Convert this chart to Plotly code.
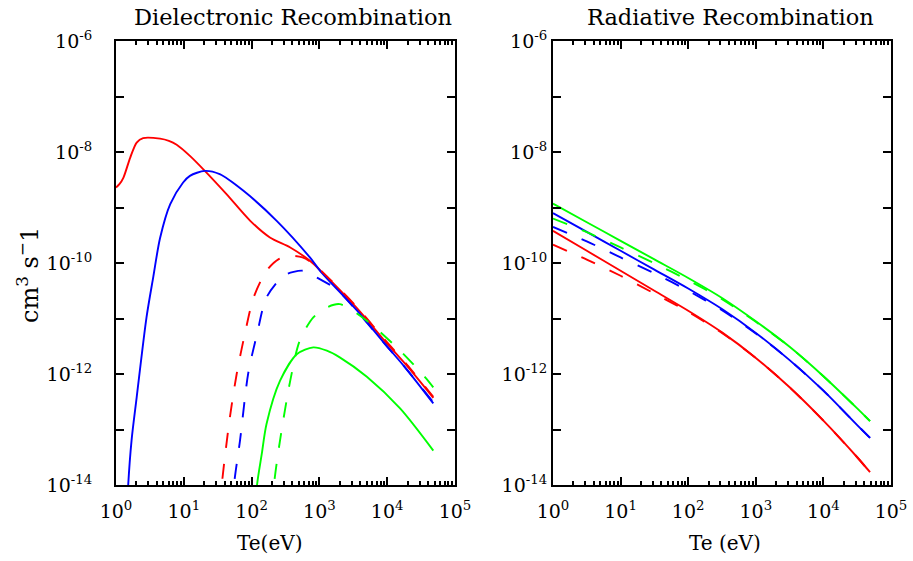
import plotly.graph_objects as go

# ---------------- data (log10 values) ----------------
# Left panel: Dielectronic Recombination
dr_red_solid_logT = [0.0, 0.05, 0.11, 0.21, 0.305, 0.40, 0.65, 0.78, 0.895, 1.09, 1.31, 1.63, 1.98, 2.27, 2.57, 2.86, 3.01, 3.55, 3.94, 4.29, 4.68]
dr_red_solid_loga = [-8.64, -8.58, -8.46, -8.10, -7.83, -7.75, -7.76, -7.80, -7.87, -8.07, -8.34, -8.76, -9.24, -9.54, -9.72, -9.96, -10.13, -10.81, -11.37, -11.85, -12.43]

dr_blue_solid_logT = [0.16, 0.18, 0.23, 0.305, 0.45, 0.55, 0.65, 0.80, 0.99, 1.09, 1.31, 1.53, 1.88, 2.37, 2.86, 3.01, 3.55, 3.94, 4.29, 4.68]
dr_blue_solid_loga = [-14.6, -14.0, -13.19, -12.42, -10.98, -10.25, -9.55, -8.94, -8.55, -8.43, -8.34, -8.40, -8.70, -9.24, -9.90, -10.14, -10.85, -11.42, -11.92, -12.53]

dr_green_solid_logT = [2.02, 2.08, 2.15, 2.22, 2.42, 2.67, 2.91, 3.11, 3.30, 3.70, 4.19, 4.68]
dr_green_solid_loga = [-15.0, -14.0, -13.44, -12.90, -12.12, -11.64, -11.52, -11.58, -11.70, -12.05, -12.62, -13.38]

dr_red_dash_logT = [1.50, 1.56, 1.68, 1.78, 1.90, 2.03, 2.22, 2.40, 2.57, 2.75, 2.90, 3.01, 3.55, 3.94, 4.29, 4.68]
dr_red_dash_loga = [-15.0, -14.0, -12.78, -12.00, -11.28, -10.62, -10.14, -9.93, -9.87, -9.90, -10.00, -10.12, -10.79, -11.35, -11.83, -12.41]

dr_blue_dash_logT = [1.68, 1.74, 1.83, 1.95, 2.08, 2.22, 2.47, 2.62, 2.76, 2.96, 3.26, 3.55, 3.94, 4.29, 4.68]
dr_blue_dash_loga = [-15.0, -14.0, -13.19, -11.99, -11.28, -10.62, -10.23, -10.16, -10.14, -10.26, -10.48, -10.86, -11.42, -11.92, -12.51]

dr_green_dash_logT = [2.28, 2.33, 2.42, 2.57, 2.71, 2.91, 3.11, 3.30, 3.70, 4.19, 4.56, 4.68]
dr_green_dash_loga = [-15.0, -14.0, -13.19, -12.12, -11.40, -10.98, -10.80, -10.74, -11.04, -11.58, -12.06, -12.24]

# Right panel: Radiative Recombination
rr_logT = [0.0, 0.5, 1.0, 1.5, 2.0, 2.5, 3.0, 3.5, 4.0, 4.5, 4.69]
rr_green_solid_loga = [-8.93, -9.265, -9.60, -9.935, -10.27, -10.63, -11.05, -11.51, -12.04, -12.62, -12.85]
rr_blue_solid_loga = [-9.10, -9.44, -9.78, -10.12, -10.46, -10.83, -11.26, -11.75, -12.30, -12.92, -13.15]
rr_red_solid_loga = [-9.42, -9.78, -10.14, -10.50, -10.86, -11.25, -11.71, -12.24, -12.84, -13.50, -13.77]
rr_green_dash_loga = [-9.20, -9.445, -9.72, -10.005, -10.31, -10.65, -11.06, -11.51, -12.04, -12.62, -12.85]
rr_blue_dash_loga = [-9.35, -9.61, -9.90, -10.185, -10.50, -10.85, -11.27, -11.75, -12.30, -12.92, -13.15]
rr_red_dash_loga = [-9.67, -9.94, -10.23, -10.55, -10.88, -11.26, -11.71, -12.24, -12.84, -13.50, -13.77]

x_tick_exps = [0, 1, 2, 3, 4, 5]
y_tick_exps = [-14, -13, -12, -11, -10, -9, -8, -7, -6]

RED, BLUE, GREEN = "#ff0000", "#0000ff", "#00ff00"
FONT = "DejaVu Serif"
DASH = "15px,16px"


def pw(v):
    return [10 ** e for e in v]


fig = go.Figure()


def add(logT, loga, color, dash, xa, ya):
    fig.add_trace(go.Scatter(
        x=pw(logT), y=pw(loga), mode="lines", xaxis=xa, yaxis=ya,
        line=dict(color=color, width=1.9, dash=dash, shape="spline", smoothing=0.8),
        showlegend=False, hoverinfo="skip"))


# left
add(dr_red_solid_logT, dr_red_solid_loga, RED, "solid", "x", "y")
add(dr_blue_solid_logT, dr_blue_solid_loga, BLUE, "solid", "x", "y")
add(dr_green_solid_logT, dr_green_solid_loga, GREEN, "solid", "x", "y")
add(dr_red_dash_logT, dr_red_dash_loga, RED, DASH, "x", "y")
add(dr_blue_dash_logT, dr_blue_dash_loga, BLUE, DASH, "x", "y")
add(dr_green_dash_logT, dr_green_dash_loga, GREEN, DASH, "x", "y")
# right
add(rr_logT, rr_green_solid_loga, GREEN, "solid", "x2", "y2")
add(rr_logT, rr_blue_solid_loga, BLUE, "solid", "x2", "y2")
add(rr_logT, rr_red_solid_loga, RED, "solid", "x2", "y2")
add(rr_logT, rr_green_dash_loga, GREEN, DASH, "x2", "y2")
add(rr_logT, rr_blue_dash_loga, BLUE, DASH, "x2", "y2")
add(rr_logT, rr_red_dash_loga, RED, DASH, "x2", "y2")

W, H = 913, 561
x_tickvals = [10 ** e for e in x_tick_exps]
x_ticktext = ["10<sup>%d</sup>" % e for e in x_tick_exps]
x_minor = [m * 10 ** e for e in x_tick_exps[:-1] for m in range(2, 10)]
y_tickvals = [10 ** e for e in y_tick_exps]
y_ticktext = [("10<sup>%d</sup>" % e) if e % 2 == 0 else "" for e in y_tick_exps]

xcommon = dict(type="log", range=[0, 5], showline=True, linecolor="black", linewidth=2,
               mirror="ticks", ticks="inside", ticklen=8, tickwidth=1.5, tickcolor="black",
               tickmode="array", tickvals=x_tickvals, ticktext=x_ticktext,
               showgrid=False, zeroline=False, ticklabelstandoff=8,
               tickfont=dict(family=FONT, size=19, color="black"),
               minor=dict(ticks="inside", ticklen=4, tickwidth=1.5, tickcolor="black",
                          tickmode="array", tickvals=x_minor, showgrid=False))
ycommon = dict(type="log", range=[-14, -6], showline=True, linecolor="black", linewidth=2,
               mirror="ticks", ticks="inside", ticklen=8, tickwidth=1.5, tickcolor="black",
               tickmode="array", tickvals=y_tickvals, ticktext=y_ticktext,
               showgrid=False, zeroline=False,
               tickfont=dict(family=FONT, size=19, color="black"))

fig.update_layout(
    width=W, height=H, margin=dict(l=0, r=0, t=0, b=0, pad=0, autoexpand=False),
    paper_bgcolor="white", plot_bgcolor="white",
    xaxis=dict(domain=[116 / W, 455 / W], anchor="y", **xcommon),
    yaxis=dict(domain=[1 - 485 / H, 1 - 41 / H], anchor="x", ticklabelstandoff=18, **ycommon),
    xaxis2=dict(domain=[553 / W, 891 / W], anchor="y2", **xcommon),
    yaxis2=dict(domain=[1 - 485 / H, 1 - 41 / H], anchor="x2", ticklabelstandoff=0, **ycommon),
    annotations=[
        dict(text="Dielectronic Recombination", x=293 / W, y=1 - 17 / H, xref="paper", yref="paper",
             showarrow=False, font=dict(family=FONT, size=22.5, color="black"), xanchor="center", yanchor="middle"),
        dict(text="Radiative Recombination", x=730 / W, y=1 - 17 / H, xref="paper", yref="paper",
             showarrow=False, font=dict(family=FONT, size=22.5, color="black"), xanchor="center", yanchor="middle"),
        dict(text="Te(eV)", x=270 / W, y=1 - 543 / H, xref="paper", yref="paper",
             showarrow=False, font=dict(family=FONT, size=20, color="black"), xanchor="center", yanchor="middle"),
        dict(text="Te (eV)", x=725 / W, y=1 - 543 / H, xref="paper", yref="paper",
             showarrow=False, font=dict(family=FONT, size=20, color="black"), xanchor="center", yanchor="middle"),
        dict(text="cm<sup>3</sup> s<sup>\u2212</sup>1", x=28 / W, y=1 - 275 / H, xref="paper", yref="paper",
             showarrow=False, textangle=-90, font=dict(family=FONT, size=24, color="black"),
             xanchor="center", yanchor="middle"),
    ],
)

fig.write_html("out.html", config={"displayModeBar": False},
               post_script="document.body.style.margin='0';document.body.style.padding='0';")
